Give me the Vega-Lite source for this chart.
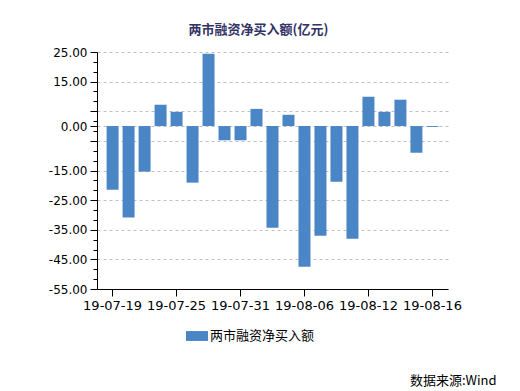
{
  "$schema": "https://vega.github.io/schema/vega-lite/v6.json",
  "width": 351,
  "height": 237,
  "autosize": {"type": "none"},
  "padding": {"left": 97, "top": 52, "right": 72, "bottom": 102},
  "background": "white",
  "config": {"view": {"stroke": null}},
  "title": {
    "text": "两市融资净买入额(亿元)",
    "font": "Noto Sans CJK SC",
    "fontSize": 13,
    "fontWeight": "bold",
    "color": "#333366",
    "anchor": "middle",
    "frame": "group",
    "dx": -14,
    "offset": 9
  },
  "data": {
    "values": [
      {"date": "19-07-19", "value": -21.5},
      {"date": "19-07-22", "value": -30.9},
      {"date": "19-07-23", "value": -15.4},
      {"date": "19-07-24", "value": 7.2},
      {"date": "19-07-25", "value": 4.8},
      {"date": "19-07-26", "value": -19.1},
      {"date": "19-07-29", "value": 24.4},
      {"date": "19-07-30", "value": -4.8},
      {"date": "19-07-31", "value": -4.8},
      {"date": "19-08-01", "value": 5.8},
      {"date": "19-08-02", "value": -34.3},
      {"date": "19-08-05", "value": 3.8},
      {"date": "19-08-06", "value": -47.5},
      {"date": "19-08-07", "value": -37.0},
      {"date": "19-08-08", "value": -18.8},
      {"date": "19-08-09", "value": -38.0},
      {"date": "19-08-12", "value": 9.9},
      {"date": "19-08-13", "value": 4.8},
      {"date": "19-08-14", "value": 8.9},
      {"date": "19-08-15", "value": -9.0},
      {"date": "19-08-16", "value": -0.3}
    ]
  },
  "mark": {"type": "bar"},
  "encoding": {
    "x": {
      "field": "date",
      "type": "nominal",
      "sort": null,
      "scale": {"paddingInner": 0.25, "paddingOuter": 0.6},
      "axis": {
        "values": ["19-07-19", "19-07-25", "19-07-31", "19-08-06", "19-08-12", "19-08-16"],
        "labelAngle": 0,
        "labelFont": "DejaVu Sans",
        "labelFontSize": 13,
        "labelColor": "black",
        "labelPadding": 3,
        "tickColor": "black",
        "tickSize": 7,
        "domainColor": "black",
        "grid": false,
        "title": "数据来源:Wind",
        "titleFont": "Noto Sans CJK SC",
        "titleFontSize": 13,
        "titleFontWeight": "normal",
        "titleColor": "black",
        "titleAnchor": "end",
        "titleAlign": "right",
        "titleBaseline": "alphabetic",
        "titleX": 399,
        "titleY": 95
      }
    },
    "y": {
      "field": "value",
      "type": "quantitative",
      "scale": {"domain": [-55, 25], "nice": false, "zero": false},
      "axis": {
        "values": [25, 21.6667, 18.3333, 15, 11.6667, 8.3333, 5, 1.6667, 0, -1.6667, -5, -8.3333, -11.6667, -15, -18.3333, -21.6667, -25, -28.3333, -31.6667, -35, -38.3333, -41.6667, -45, -48.3333, -51.6667, -55],
        "title": null,
        "grid": true,
        "gridColor": "#c0c0c0",
        "gridDash": [3, 3],
        "gridOpacity": {"condition": {"test": "abs(datum.value - round(datum.value)) > 0.01", "value": 0}, "value": 1},
        "tickSize": {"condition": {"test": "abs(datum.value - round(datum.value)) > 0.01", "value": 4}, "value": 7},
        "tickColor": "black",
        "domainColor": "black",
        "labelExpr": "abs(datum.value - round(datum.value)) > 0.01 || abs(datum.value) == 5 ? '' : datum.value + '.00'",
        "labelFont": "DejaVu Sans",
        "labelFontSize": 12,
        "labelColor": "black",
        "labelPadding": 3,
        "labelOverlap": false,
        "labelBound": false,
        "labelFlush": false
      }
    },
    "color": {
      "datum": "两市融资净买入额",
      "type": "nominal",
      "scale": {"range": ["#4a86c5"]},
      "legend": {
        "orient": "none",
        "legendX": 89,
        "legendY": 273,
        "title": null,
        "symbolType": "M-1,-0.45H1V0.45H-1Z",
        "symbolSize": 484,
        "symbolStrokeWidth": 0,
        "labelFont": "Noto Sans CJK SC",
        "labelFontSize": 13,
        "labelColor": "black",
        "labelOffset": 2
      }
    }
  }
}
